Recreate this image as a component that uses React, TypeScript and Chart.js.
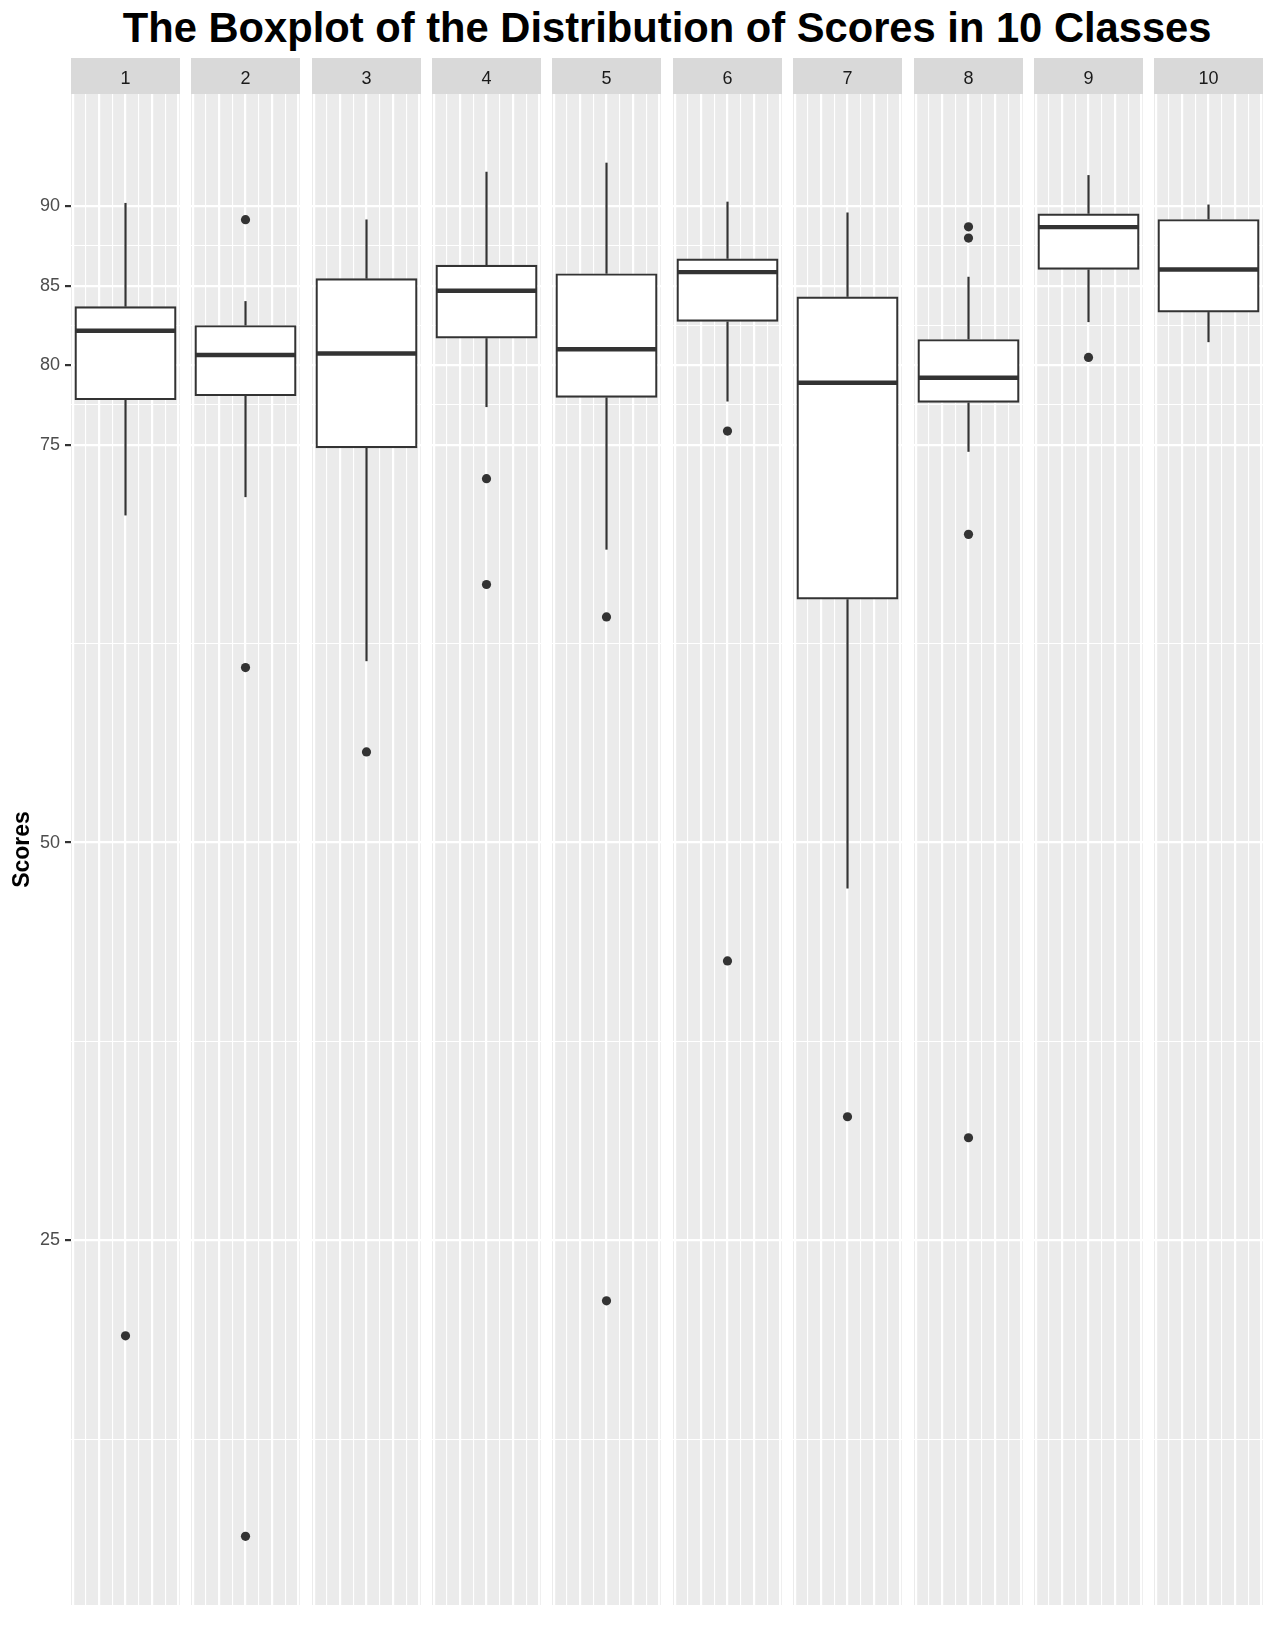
import React, { useEffect, useRef } from "react";
import { Chart, registerables } from "chart.js";

Chart.register(...registerables);

// ---- data ----
const classes = [1, 2, 3, 4, 5, 6, 7, 8, 9, 10];
const lowerWhisker = [70.56, 71.71, 61.4, 77.37, 68.41, 77.72, 47.12, 74.56, 82.71, 81.45];
const q1 = [77.83, 78.08, 74.81, 81.7, 77.98, 82.75, 65.3, 77.66, 86.02, 83.34];
const medians = [82.17, 80.64, 80.74, 84.68, 81.0, 85.85, 78.9, 79.21, 88.68, 86.02];
const q3 = [83.68, 82.5, 85.44, 86.29, 85.75, 86.69, 84.3, 81.62, 89.52, 89.16];
const upperWhisker = [90.2, 84.03, 89.16, 92.16, 92.73, 90.28, 89.6, 85.56, 91.95, 90.1];
const outliers: number[][] = [
  [19.0],
  [89.15, 61.0, 6.4],
  [55.7],
  [72.87, 66.22],
  [64.18, 21.2],
  [75.86, 42.56],
  [32.77],
  [88.7, 87.99, 69.37, 31.45],
  [80.49],
  [],
];
const yMajorTicks = [25, 50, 75, 80, 85, 90];
const yMinorTicks = [12.5, 37.5, 62.5, 77.5, 82.5, 87.5];

const TITLE = "The Boxplot of the Distribution of Scores in 10 Classes";
const Y_TITLE = "Scores";

// ---- layout / style ----
const FONT = '"Liberation Sans", Arial, Helvetica, sans-serif';
const AXIS_W = 71;
const PANEL_W = 109;
const PANEL_PITCH = 120.37;
const CANVAS_TOP = 58;
const CANVAS_H = 1547;
const BOX_HALF = 0.375;
const X_HALF = 0.4125;
const UNIT_PX = PANEL_W / (2 * X_HALF);
const LINE_W = 2.2;
const INK = "#333333";

const allValues = [...lowerWhisker, ...upperWhisker, ...outliers.flat()];
const dMin = Math.min(...allValues);
const dMax = Math.max(...allValues);
const yMin = dMin - 0.05 * (dMax - dMin);
const yMax = dMax + 0.05 * (dMax - dMin);

const panelBg = {
  id: "panelBg",
  beforeDraw(chart: any) {
    const { ctx, chartArea } = chart;
    const w = chartArea.right - chartArea.left;
    ctx.save();
    ctx.fillStyle = "#D9D9D9";
    ctx.fillRect(chartArea.left, 0, w, chartArea.top);
    ctx.fillStyle = "#EBEBEB";
    ctx.fillRect(chartArea.left, chartArea.top, w, chartArea.bottom - chartArea.top);
    ctx.restore();
  },
};

const zeroPad = (scale: any) => {
  scale.paddingTop = 0;
  scale.paddingBottom = 0;
  scale.paddingLeft = 0;
  scale.paddingRight = 0;
};

function Panel({ index }: { index: number }) {
  const ref = useRef<HTMLCanvasElement>(null);
  const withAxis = index === 0;
  const width = withAxis ? AXIS_W + PANEL_W : PANEL_W;
  const left = withAxis ? 0 : Math.round(AXIS_W + index * PANEL_PITCH);

  useEffect(() => {
    const c = classes[index];
    const isMajorY = (v: number) => yMajorTicks.includes(v);
    const isMajorX = (v: number) => Math.abs(Math.round((v - c) * 10)) % 2 === 0;
    const whisker = (a: number, b: number) => ({
      type: "line" as const,
      data: [
        { x: c, y: a },
        { x: c, y: b },
      ],
      borderColor: INK,
      borderWidth: LINE_W,
      pointRadius: 0,
      order: 3,
    });

    const chart = new Chart(ref.current as HTMLCanvasElement, {
      type: "bar",
      data: {
        datasets: [
          {
            type: "scatter",
            data: outliers[index].map((v) => ({ x: c, y: v })),
            pointRadius: 4.6,
            pointBackgroundColor: INK,
            pointBorderWidth: 0,
            order: 0,
          } as any,
          {
            type: "line",
            data: [
              { x: c - BOX_HALF, y: medians[index] },
              { x: c + BOX_HALF, y: medians[index] },
            ],
            borderColor: INK,
            borderWidth: 2 * LINE_W,
            pointRadius: 0,
            order: 1,
          } as any,
          {
            type: "bar",
            data: [{ x: c, y: [q1[index], q3[index]] }],
            backgroundColor: "#FFFFFF",
            borderColor: INK,
            borderWidth: LINE_W,
            borderSkipped: false,
            barThickness: 2 * BOX_HALF * UNIT_PX + LINE_W,
            order: 2,
          } as any,
          whisker(q3[index], upperWhisker[index]) as any,
          whisker(lowerWhisker[index], q1[index]) as any,
        ],
      },
      options: {
        animation: false,
        responsive: false,
        maintainAspectRatio: false,
        devicePixelRatio: 1,
        layout: { padding: 0, autoPadding: false },
        plugins: {
          legend: { display: false },
          tooltip: { enabled: false },
          title: {
            display: true,
            text: String(c),
            fullSize: false,
            color: "#1A1A1A",
            font: { family: FONT, size: 18, weight: "normal", lineHeight: 1 },
            padding: { top: 12, bottom: 6 },
          },
        },
        scales: {
          x: {
            type: "linear",
            min: c - X_HALF,
            max: c + X_HALF,
            offset: false,
            afterBuildTicks: (scale: any) => {
              const t = [];
              for (let k = -4; k <= 4; k++) t.push({ value: c + k * 0.1 });
              scale.ticks = t;
            },
            afterFit: (scale: any) => {
              scale.height = 0;
              zeroPad(scale);
            },
            ticks: { display: false },
            border: { display: false },
            grid: {
              offset: false,
              drawTicks: false,
              color: "#FFFFFF",
              lineWidth: (ctx: any) => (ctx.tick && isMajorX(ctx.tick.value) ? 2.2 : 1.1),
            },
          },
          y: {
            type: "linear",
            min: yMin,
            max: yMax,
            afterBuildTicks: (scale: any) => {
              const vals = [...yMinorTicks, ...yMajorTicks].sort((a, b) => a - b);
              scale.ticks = vals.map((v) => ({ value: v }));
            },
            afterFit: (scale: any) => {
              scale.width = withAxis ? AXIS_W : 0;
              zeroPad(scale);
            },
            border: { display: false },
            title: {
              display: withAxis,
              text: Y_TITLE,
              color: "#000000",
              font: { family: FONT, size: 23, weight: "bold" },
              padding: { top: 9, bottom: 0 },
            },
            ticks: {
              display: withAxis,
              autoSkip: false,
              padding: 5,
              color: "#4D4D4D",
              font: { family: FONT, size: 18 },
              callback: (v: any) => (isMajorY(Number(v)) ? String(v) : ""),
            },
            grid: {
              color: "#FFFFFF",
              drawTicks: withAxis,
              tickLength: 6,
              tickWidth: 2.2,
              tickColor: (ctx: any) => (ctx.tick && isMajorY(ctx.tick.value) ? INK : "rgba(0,0,0,0)"),
              lineWidth: (ctx: any) => (ctx.tick && isMajorY(ctx.tick.value) ? 2.2 : 1.1),
            },
          },
        },
      } as any,
      plugins: [panelBg],
    });
    return () => chart.destroy();
  }, []);

  return (
    <canvas
      ref={ref}
      width={width}
      height={CANVAS_H}
      style={{ position: "absolute", left, top: CANVAS_TOP, width, height: CANVAS_H }}
    />
  );
}

export default function App() {
  const center = AXIS_W + (9 * PANEL_PITCH + PANEL_W) / 2;
  return (
    <div
      style={{
        position: "absolute",
        left: 0,
        top: 0,
        width: 1275,
        height: 1650,
        background: "#FFFFFF",
        overflow: "hidden",
      }}
    >
      <div
        style={{
          position: "absolute",
          left: center - 600,
          width: 1200,
          top: 7,
          textAlign: "center",
          font: `bold 41.7px ${FONT}`,
          lineHeight: "41.7px",
          color: "#000000",
          whiteSpace: "nowrap",
        }}
      >
        {TITLE}
      </div>
      {classes.map((_, i) => (
        <Panel key={i} index={i} />
      ))}
    </div>
  );
}
